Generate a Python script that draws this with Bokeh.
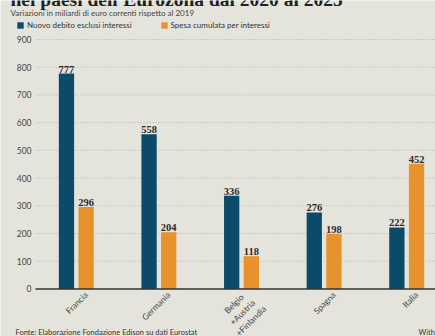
from bokeh.plotting import figure
from bokeh.models import Legend, LegendItem, ColumnDataSource, Range1d
from bokeh.core.properties import value
from bokeh.embed import file_html
from bokeh.resources import INLINE

categories = ["Francia", "Germania", "Belgio\n+Austria\n+Finlandia", "Spagna", "Italia"]
debito = [777, 558, 336, 276, 222]
interessi = [296, 204, 118, 198, 452]
y_ticks = [0, 100, 200, 300, 400, 500, 600, 700, 800, 900]

BG = "#e4e4dd"
BLUE = "#0b4b69"
ORANGE = "#e7922c"
TXT = "#333333"

W, H = 435, 336
CX0 = 75.8        # canvas x of first category centre
STEP = 82.6       # pixels between categories
Y0, Y900 = 288.4, 39.0   # canvas y of value 0 and 900
ppu = (Y0 - Y900) / 900.0

def xd(px):
    return (px - CX0) / STEP

def yd(py):
    return (Y0 - py) / ppu

idx = list(range(len(categories)))
p = figure(width=W, height=H, output_backend="svg", toolbar_location=None,
           x_range=Range1d(xd(0), xd(W)), y_range=Range1d(yd(H), yd(0)),
           x_axis_location=None, y_axis_location=None, min_border=0)
p.background_fill_color = BG
p.border_fill_color = BG
p.outline_line_color = None
p.xgrid.visible = False
p.ygrid.visible = False

# dotted grid lines
grid_vals = y_ticks[1:]
p.segment(x0=[xd(35)] * len(grid_vals), x1=[xd(W)] * len(grid_vals),
          y0=grid_vals, y1=grid_vals, line_color="#b3b3ab", line_dash="1 2", line_width=1)

# y tick labels
p.text(x=[xd(31)] * len(y_ticks), y=y_ticks, text=[str(t) for t in y_ticks],
       text_font=value("Lato"), text_font_size="8.5px", text_color="#444444",
       text_align="right", text_baseline="middle")

src = ColumnDataSource(dict(
    xb=[i - 0.119 for i in idx], xo=[i + 0.119 for i in idx],
    deb=debito, inte=interessi,
    tdeb=[str(v) for v in debito], tint=[str(v) for v in interessi]))

r1 = p.vbar(x="xb", top="deb", width=0.185, bottom=0, source=src, fill_color=BLUE, line_color=None)
r2 = p.vbar(x="xo", top="inte", width=0.185, bottom=0, source=src, fill_color=ORANGE, line_color=None)

# baseline
p.segment(x0=[xd(35)], x1=[xd(W)], y0=[0], y1=[0], line_color="#333333", line_width=1.5)

for xs, ys, ts in (("xb", "deb", "tdeb"), ("xo", "inte", "tint")):
    p.text(x=xs, y=ys, text=ts, source=src, text_font=value("Liberation Serif"),
           text_font_style="bold", text_font_size="10.5px", text_color="#2b2b2b",
           text_align="center", text_baseline="bottom", y_offset=-1)

# rotated category labels
single = [(i, c) for i, c in zip(idx, categories) if "\n" not in c]
multi = [(i, c) for i, c in zip(idx, categories) if "\n" in c]
p.text(x=[i + 10 / STEP for i, _ in single], y=[yd(293)] * len(single),
       text=[c for _, c in single], angle=45, angle_units="deg",
       text_align="right", text_baseline="middle", text_font=value("Lato"),
       text_font_size="8.5px", text_color="#444444")
p.text(x=[i + 1 / STEP for i, _ in multi], y=[yd(312)] * len(multi),
       text=[c for _, c in multi], angle=45, angle_units="deg",
       text_align="center", text_baseline="middle", text_font=value("Lato"),
       text_font_size="8.5px", text_color="#444444", text_line_height=1.2)

# legend
legend = Legend(items=[LegendItem(label="Nuovo debito esclusi interessi", renderers=[r1]),
                       LegendItem(label="Spesa cumulata per interessi", renderers=[r2])],
                orientation="horizontal", location=(16, H - 30),
                background_fill_alpha=0, border_line_alpha=0, padding=0, margin=0,
                glyph_width=8, glyph_height=8, label_standoff=3, spacing=28,
                label_text_font="Lato", label_text_font_size="8px",
                label_text_color=TXT, label_height=9)
p.add_layout(legend, "center")

# header and footer texts (the headline is cut by the top edge, as in the source)
p.text(x=[xd(10)], y=[yd(9.5)], text=["nei paesi dell'Eurozona dal 2020 al 2025"],
       text_font=value("Liberation Serif"), text_font_style="bold",
       text_font_size="19.5px", text_color="#1e1e1e", text_baseline="bottom")
p.text(x=[xd(10)], y=[yd(12.5)], text=["Variazioni in miliardi di euro correnti rispetto al 2019"],
       text_font=value("Lato"), text_font_size="8px", text_color="#444444",
       text_baseline="middle")
p.text(x=[xd(15)], y=[yd(332)], text=["Fonte: Elaborazione Fondazione Edison su dati Eurostat"],
       text_font=value("Lato"), text_font_size="7.5px", text_color=TXT,
       text_baseline="middle")
p.text(x=[xd(418)], y=[yd(332)], text=["Withub"],
       text_font=value("Lato"), text_font_size="7.5px", text_color=TXT,
       text_baseline="middle")

open("out.html", "w").write(file_html(p, INLINE))
